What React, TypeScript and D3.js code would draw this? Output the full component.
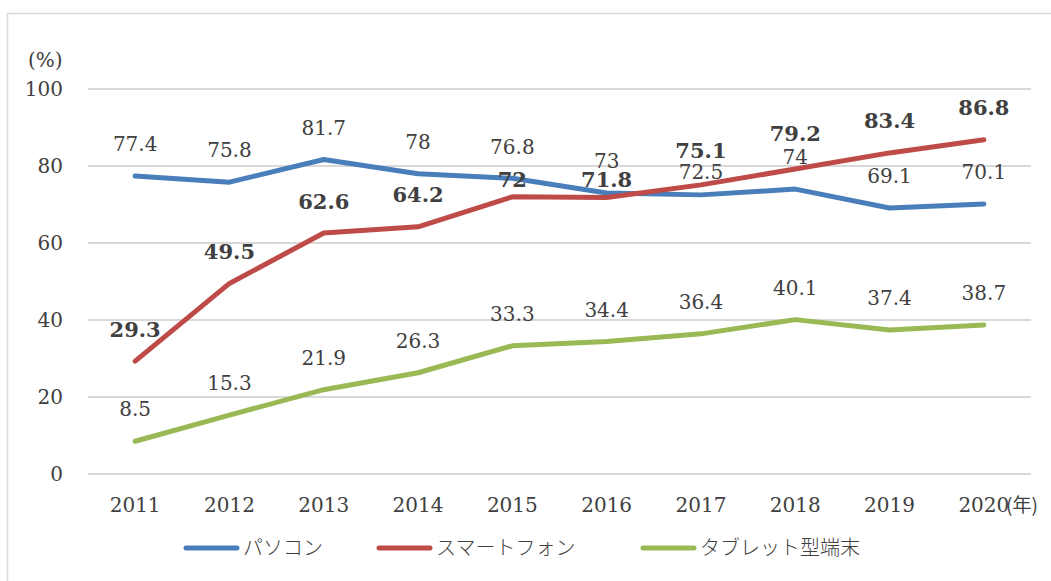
import React from 'react';
import * as d3 from 'd3';

const years = ['2011', '2012', '2013', '2014', '2015', '2016', '2017', '2018', '2019', '2020'];
const pcValues = [77.4, 75.8, 81.7, 78, 76.8, 73, 72.5, 74, 69.1, 70.1];
const phoneValues = [29.3, 49.5, 62.6, 64.2, 72, 71.8, 75.1, 79.2, 83.4, 86.8];
const tabletValues = [8.5, 15.3, 21.9, 26.3, 33.3, 34.4, 36.4, 40.1, 37.4, 38.7];
const yTicks = [0, 20, 40, 60, 80, 100];

const seriesNames = ['パソコン', 'スマートフォン', 'タブレット型端末'];

const width = 1051;
const height = 581;
const plot = { left: 88, right: 1031, top: 89, bottom: 474 };
const serif = '"DejaVu Serif", serif';
const jp = '"Noto Sans CJK JP", sans-serif';
const textColor = '#404040';

// label offsets above the point, with a few labels nudged like the original
const labelGap = 32;
const labelNudge: Record<string, number> = {
  '0-6': 23,
  '1-4': 17,
  '1-5': 18,
  '1-6': 34,
  '1-7': 36,
};

const App = () => {
  const x = d3.scaleBand<string>().domain(years).range([plot.left, plot.right]);
  const y = d3.scaleLinear().domain([0, 100]).range([plot.bottom, plot.top]);
  const cx = (yr: string) => (x(yr) as number) + x.bandwidth() / 2;

  const series = [
    { name: seriesNames[0], values: pcValues, color: '#4a7ebb', bold: false },
    { name: seriesNames[1], values: phoneValues, color: '#be4b48', bold: true },
    { name: seriesNames[2], values: tabletValues, color: '#98b954', bold: false },
  ];

  const line = d3
    .line<number>()
    .x((_, i) => cx(years[i]))
    .y((d) => y(d));

  const legendItems = [
    { x: 183, textX: 243 },
    { x: 376, textX: 436 },
    { x: 640, textX: 700 },
  ];

  return (
    <svg
      width={width}
      height={height}
      style={{ position: 'absolute', left: 0, top: 0, background: '#fff' }}
    >
      <rect x={7.5} y={13.5} width={1100} height={600} fill="#fff" stroke="#d9d9d9" strokeWidth={1.5} />

      {yTicks.map((t) => (
        <g key={t}>
          <line x1={plot.left} x2={plot.right} y1={y(t)} y2={y(t)} stroke="#d9d9d9" strokeWidth={2} />
          <text
            x={63}
            y={y(t)}
            dy="0.36em"
            textAnchor="end"
            fontFamily={serif}
            fontSize={20}
            fill={textColor}
          >
            {t}
          </text>
        </g>
      ))}

      <text x={28} y={60} dy="0.36em" fontFamily={serif} fontSize={20} fill={textColor}>
        (%)
      </text>

      {years.map((yr) => (
        <text
          key={yr}
          x={cx(yr)}
          y={505}
          dy="0.36em"
          textAnchor="middle"
          fontFamily={serif}
          fontSize={20}
          fill={textColor}
        >
          {yr}
        </text>
      ))}
      <text x={1006} y={505} dy="0.36em" fontFamily={jp} fontSize={19} fill={textColor}>
        (年)
      </text>

      {series.map((s) => (
        <path
          key={s.name}
          d={line(s.values) as string}
          fill="none"
          stroke={s.color}
          strokeWidth={5}
          strokeLinejoin="round"
          strokeLinecap="round"
        />
      ))}

      {series.map((s, si) =>
        s.values.map((v, i) => (
          <text
            key={s.name + i}
            x={cx(years[i])}
            y={y(v) - (labelNudge[`${si}-${i}`] ?? labelGap)}
            dy="0.36em"
            textAnchor="middle"
            fontFamily={serif}
            fontSize={s.bold ? 21 : 20}
            fontWeight={s.bold ? 'bold' : 'normal'}
            fill={textColor}
          >
            {v}
          </text>
        ))
      )}

      {series.map((s, i) => (
        <g key={'lg' + s.name}>
          <line
            x1={legendItems[i].x + 3}
            x2={legendItems[i].x + 54}
            y1={548}
            y2={548}
            stroke={s.color}
            strokeWidth={5}
            strokeLinecap="round"
          />
          <text
            x={legendItems[i].textX}
            y={548}
            dy="0.36em"
            fontFamily={jp}
            fontSize={20}
            fontWeight={300}
            fill={textColor}
          >
            {s.name}
          </text>
        </g>
      ))}
    </svg>
  );
};

export default App;
